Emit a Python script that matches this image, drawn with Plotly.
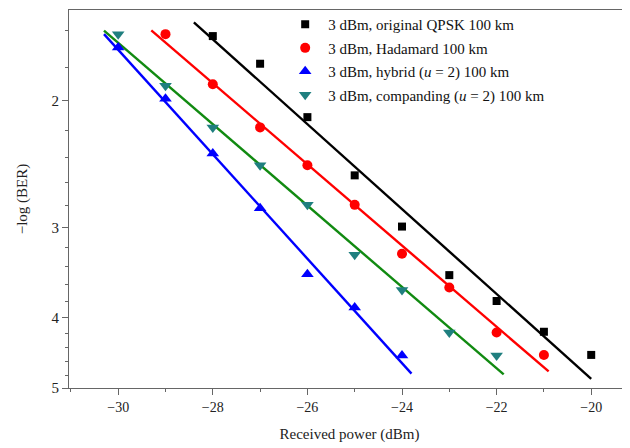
import numpy as np
import plotly.graph_objects as go

# ---- data ----
x_qpsk = [-28, -27, -26, -25, -24, -23, -22, -21, -20]
y_qpsk = [1.63, 1.78, 2.11, 2.54, 2.99, 3.49, 3.79, 4.18, 4.50]

x_hada = [-29, -28, -27, -26, -25, -24, -23, -22, -21]
y_hada = [1.62, 1.90, 2.18, 2.46, 2.79, 3.26, 3.63, 4.19, 4.50]

x_hyb = [-30, -29, -28, -27, -26, -25, -24]
y_hyb = [1.69, 1.99, 2.37, 2.82, 3.48, 3.87, 4.51]

x_comp = [-30, -29, -28, -27, -26, -25, -24, -23, -22]
y_comp = [1.62, 1.91, 2.18, 2.46, 2.79, 3.27, 3.66, 4.19, 4.51]

names = ["3 dBm, original QPSK 100 km",
         "3 dBm, Hadamard 100 km",
         "3 dBm, hybrid (<i>u</i> = 2) 100 km",
         "3 dBm, companding (<i>u</i> = 2) 100 km"]

# extent of the fitted lines (received power, dBm)
fit_start = [-28.4, -29.3, -30.3, -30.3]
fit_end = [-20.0, -20.9, -23.8, -21.85]

y_tickvals = [2, 3, 4, 5]
y_minor = [1.6, 1.8, 2.2, 2.4, 2.6, 2.8, 3.2, 3.4, 3.6, 3.8, 4.2, 4.4, 4.6, 4.8]
x_tickvals = [-30, -28, -26, -24, -22, -20]

# ---- styles ----
marker_colors = ["#000000", "#ff0000", "#0000ff", "#1f7f7f"]
line_colors = ["#000000", "#ff0000", "#0000ff", "#118a11"]
symbols = ["square", "circle", "triangle-up", "triangle-down"]
sizes = [8, 10, 11, 11]

series = [(x_qpsk, y_qpsk), (x_hada, y_hada), (x_hyb, y_hyb), (x_comp, y_comp)]

fig = go.Figure()
for i, (xs, ys) in enumerate(series):
    coef = np.polyfit(np.array(xs, float), np.log10(np.array(ys, float)), 1)
    fx = np.array([fit_start[i], fit_end[i]])
    fy = 10 ** np.polyval(coef, fx)
    fig.add_trace(go.Scatter(x=fx, y=fy, mode="lines",
                             line=dict(color=line_colors[i], width=2.4),
                             showlegend=False, hoverinfo="skip"))
for i, (xs, ys) in enumerate(series):
    fig.add_trace(go.Scatter(x=xs, y=ys, mode="markers", name=names[i],
                             legendgroup=str(i),
                             marker=dict(symbol=symbols[i], size=sizes[i],
                                         color=marker_colors[i],
                                         line=dict(width=0))))

font_family = "Liberation Serif, Times New Roman, serif"
fig.update_layout(
    width=622, height=440,
    margin=dict(l=61, r=0, t=2, b=60),
    paper_bgcolor="white", plot_bgcolor="white",
    font=dict(family=font_family, size=14, color="#222"),
    legend=dict(x=0.38, y=1.005, xanchor="left", yanchor="top",
                bgcolor="rgba(0,0,0,0)", font=dict(size=15, color="#111"),
                tracegroupgap=1, itemwidth=36),
)
fig.update_xaxes(
    range=[-31.04, -19.18], tickvals=x_tickvals,
    showline=True, linecolor="#666", linewidth=1.2, mirror=True,
    ticks="outside", ticklen=6, tickcolor="#666",
    minor=dict(dtick=1, ticks="outside", ticklen=3, tickcolor="#666"),
    showgrid=False, zeroline=False,
    title=dict(text="Received power (dBm)", standoff=14, font=dict(size=15)),
    tickfont=dict(size=14),
)
fig.update_yaxes(
    type="log", range=[np.log10(5), np.log10(1.5)],
    tickvals=y_tickvals, ticktext=[str(v) for v in y_tickvals],
    showline=True, linecolor="#666", linewidth=1.2, mirror=False,
    ticks="outside", ticklen=6, tickcolor="#666",
    minor=dict(tickvals=y_minor, ticks="outside", ticklen=3, tickcolor="#666"),
    showgrid=False, zeroline=False,
    title=dict(text="−log (BER)", standoff=20, font=dict(size=15)),
    tickfont=dict(size=15),
)

fig.write_html("out.html")
